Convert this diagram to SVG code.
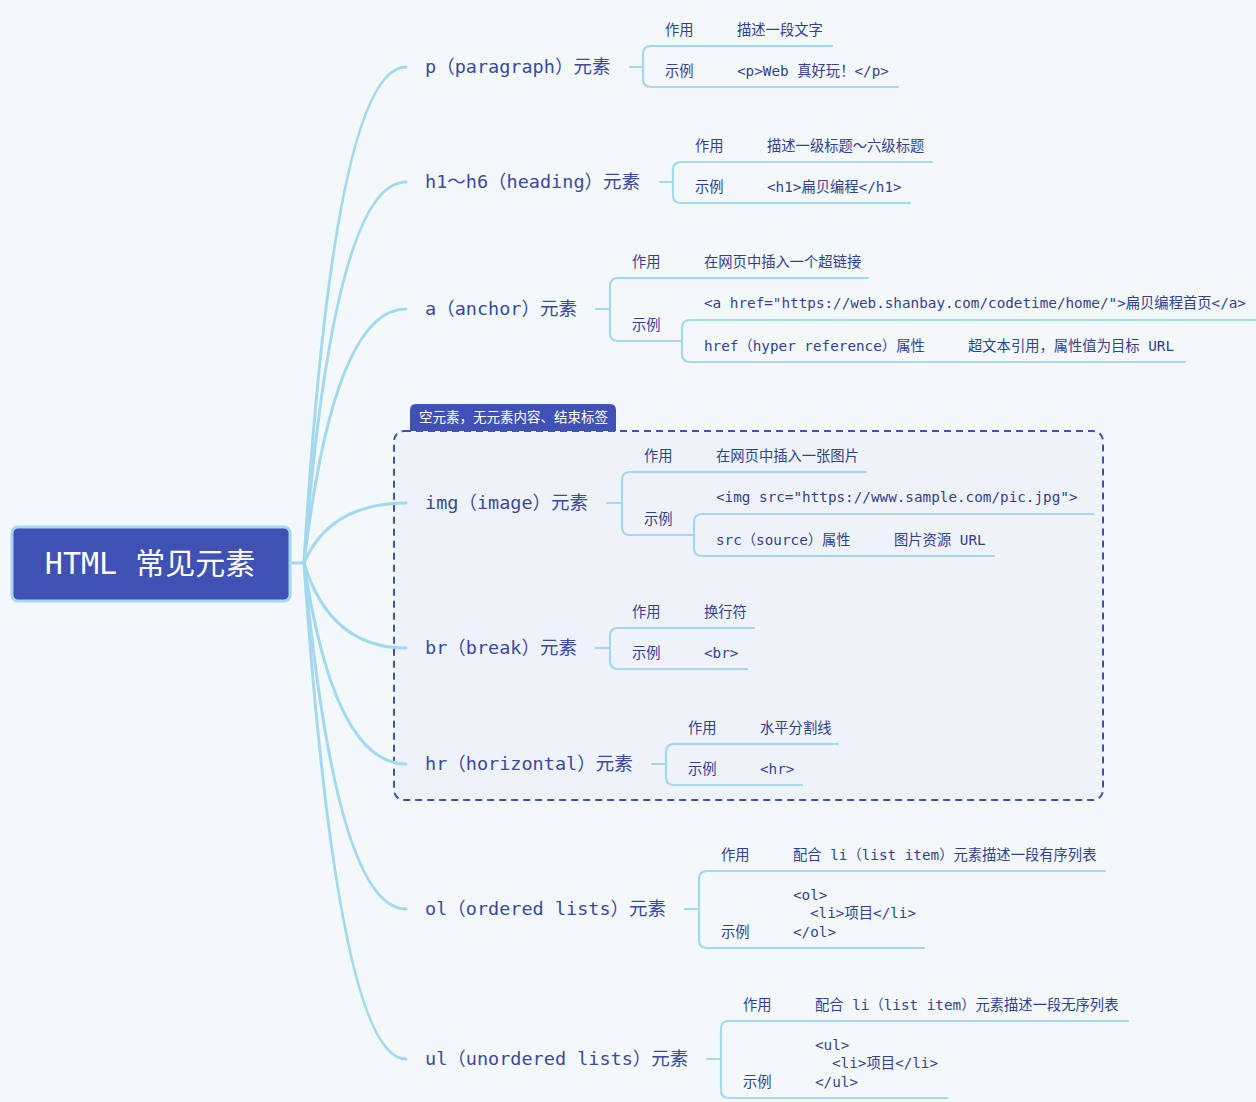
<svg xmlns="http://www.w3.org/2000/svg" width="1256" height="1102" viewBox="0 0 1256 1102">
<style>
.bg{fill:#f3f8fa}
.conn{fill:none;stroke:#a3d8ee;stroke-width:3;stroke-linecap:round}
.br{fill:none;stroke:#a3d8ee;stroke-width:2.2;stroke-linecap:round}
.lbl{font-family:"DejaVu Sans Mono","Noto Sans CJK SC",monospace;font-size:18.5px;fill:#3a49a3}
.t{font-family:"DejaVu Sans Mono","Noto Sans CJK SC",monospace;font-size:14.3px;fill:#333f91;white-space:pre}
.root{fill:#3f51b5;stroke:#a3d8ee;stroke-width:3}
.roott{font-family:"DejaVu Sans Mono","Noto Sans CJK SC",monospace;font-size:30px;fill:#ffffff;white-space:pre}
.bound{fill:#edf3f9;stroke:#3f51b5;stroke-width:2;stroke-dasharray:7 5}
.tab{fill:#3f51b5}
.tabt{font-family:"Noto Sans CJK SC",sans-serif;font-size:13.5px;fill:#ffffff}
</style>
<rect class="bg" x="0" y="0" width="1256" height="1102"/>
<g id="boundary">
<rect class="bound" x="394" y="431" width="709" height="369" rx="10"/>
<path class="tab" d="M410,431 V410 Q410,404 416,404 H610 Q616,404 616,410 V431 Z"/>
<text class="tabt" x="419" y="422">空元素，无元素内容、结束标签</text>
</g>
<g id="connectors">
<path class="conn" d="M290,563 H304"/>
<path class="conn" d="M304,563 Q334,67 406,67"/>
<path class="conn" d="M304,563 Q334,182 406,182"/>
<path class="conn" d="M304,563 Q334,309 406,309"/>
<path class="conn" d="M304,563 Q330,503 406,503"/>
<path class="conn" d="M304,563 Q330,648 406,648"/>
<path class="conn" d="M304,563 Q334,764 406,764"/>
<path class="conn" d="M304,563 Q336,909 406,909"/>
<path class="conn" d="M304,563 Q338,1059 406,1059"/>
<!-- p -->
<path class="br" d="M630,67 H643"/>
<path class="br" d="M832,46 H651 Q643,46 643,54 V79 Q643,87 651,87 H898"/>
<!-- h1 -->
<path class="br" d="M660,182 H673"/>
<path class="br" d="M932,162 H681 Q673,162 673,170 V195 Q673,203 681,203 H910"/>
<!-- a -->
<path class="br" d="M596,309 H610"/>
<path class="br" d="M868,278 H618 Q610,278 610,286 V333 Q610,341 618,341 H682"/>
<path class="br" d="M1256,320 H690 Q682,320 682,328 V354 Q682,362 690,362 H1185"/>
<!-- img -->
<path class="br" d="M607,503 H622"/>
<path class="br" d="M866,472 H630 Q622,472 622,480 V527 Q622,535 630,535 H694"/>
<path class="br" d="M1093,514 H702 Q694,514 694,522 V548 Q694,556 702,556 H994"/>
<!-- br -->
<path class="br" d="M596,648 H610"/>
<path class="br" d="M754,628 H618 Q610,628 610,636 V661 Q610,669 618,669 H747"/>
<!-- hr -->
<path class="br" d="M652,764 H666"/>
<path class="br" d="M838,744 H674 Q666,744 666,752 V777 Q666,785 674,785 H802"/>
<!-- ol -->
<path class="br" d="M685,909 H699"/>
<path class="br" d="M1105,871 H707 Q699,871 699,879 V940 Q699,948 707,948 H924"/>
<!-- ul -->
<path class="br" d="M707,1059 H721"/>
<path class="br" d="M1128,1021 H729 Q721,1021 721,1029 V1090 Q721,1098 729,1098 H947"/>
</g>
<g id="root">
<rect class="root" x="12" y="527" width="278" height="74" rx="6"/>
<text class="roott" x="150" y="574" text-anchor="middle">HTML 常见元素</text>
</g>
<g id="node-p">
<text class="lbl" x="425" y="73">p（paragraph）元素</text>
<text class="t" x="665" y="35">作用</text>
<text class="t" x="737" y="35">描述一段文字</text>
<text class="t" x="665" y="76">示例</text>
<text class="t" x="737" y="76">&lt;p&gt;Web 真好玩！&lt;/p&gt;</text>
</g>
<g id="node-h1">
<text class="lbl" x="425" y="188">h1～h6（heading）元素</text>
<text class="t" x="695" y="151">作用</text>
<text class="t" x="767" y="151">描述一级标题～六级标题</text>
<text class="t" x="695" y="192">示例</text>
<text class="t" x="767" y="192">&lt;h1&gt;扁贝编程&lt;/h1&gt;</text>
</g>
<g id="node-a">
<text class="lbl" x="425" y="315">a（anchor）元素</text>
<text class="t" x="632" y="267">作用</text>
<text class="t" x="704" y="267">在网页中插入一个超链接</text>
<text class="t" x="632" y="330">示例</text>
<text class="t" x="704" y="308">&lt;a href="https://web.shanbay.com/codetime/home/"&gt;扁贝编程首页&lt;/a&gt;</text>
<text class="t" x="704" y="351">href（hyper reference）属性</text>
<text class="t" x="968" y="351">超文本引用，属性值为目标 URL</text>
</g>
<g id="node-img">
<text class="lbl" x="425" y="509">img（image）元素</text>
<text class="t" x="644" y="461">作用</text>
<text class="t" x="716" y="461">在网页中插入一张图片</text>
<text class="t" x="644" y="524">示例</text>
<text class="t" x="716" y="502">&lt;img src="https://www.sample.com/pic.jpg"&gt;</text>
<text class="t" x="716" y="545">src（source）属性</text>
<text class="t" x="894" y="545">图片资源 URL</text>
</g>
<g id="node-br">
<text class="lbl" x="425" y="654">br（break）元素</text>
<text class="t" x="632" y="617">作用</text>
<text class="t" x="704" y="617">换行符</text>
<text class="t" x="632" y="658">示例</text>
<text class="t" x="704" y="658">&lt;br&gt;</text>
</g>
<g id="node-hr">
<text class="lbl" x="425" y="770">hr（horizontal）元素</text>
<text class="t" x="688" y="733">作用</text>
<text class="t" x="760" y="733">水平分割线</text>
<text class="t" x="688" y="774">示例</text>
<text class="t" x="760" y="774">&lt;hr&gt;</text>
</g>
<g id="node-ol">
<text class="lbl" x="425" y="915">ol（ordered lists）元素</text>
<text class="t" x="721" y="860">作用</text>
<text class="t" x="793" y="860">配合 li（list item）元素描述一段有序列表</text>
<text class="t" x="721" y="937">示例</text>
<text class="t" x="793" y="900">&lt;ol&gt;</text>
<text class="t" x="810" y="918">&lt;li&gt;项目&lt;/li&gt;</text>
<text class="t" x="793" y="937">&lt;/ol&gt;</text>
</g>
<g id="node-ul">
<text class="lbl" x="425" y="1065">ul（unordered lists）元素</text>
<text class="t" x="743" y="1010">作用</text>
<text class="t" x="815" y="1010">配合 li（list item）元素描述一段无序列表</text>
<text class="t" x="743" y="1087">示例</text>
<text class="t" x="815" y="1050">&lt;ul&gt;</text>
<text class="t" x="832" y="1068">&lt;li&gt;项目&lt;/li&gt;</text>
<text class="t" x="815" y="1087">&lt;/ul&gt;</text>
</g>
</svg>
